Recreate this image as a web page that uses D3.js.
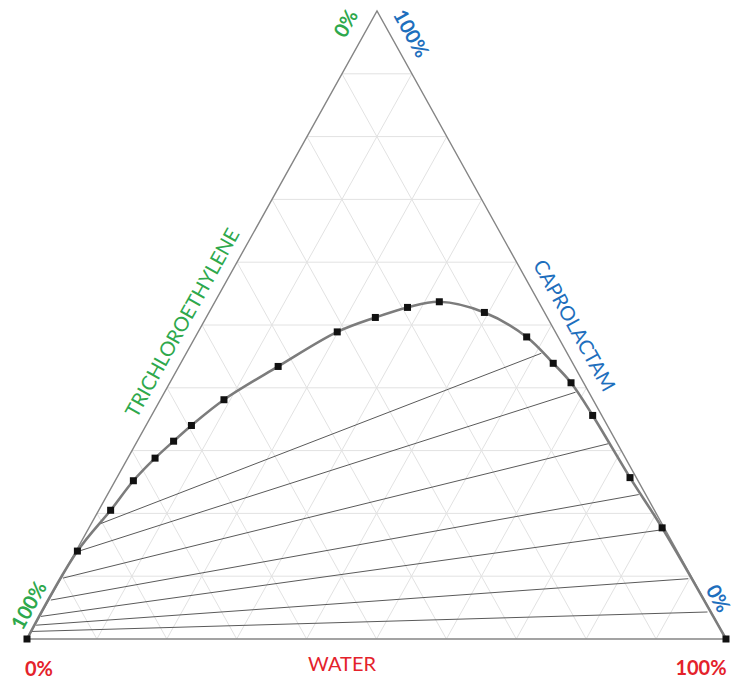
<!DOCTYPE html>
<html>
<head>
<meta charset="utf-8">
<script src="https://cdn.jsdelivr.net/npm/d3@7"></script>
<style>
  html, body { margin: 0; padding: 0; background: #fff; }
  svg { display: block; }
</style>
</head>
<body>
<svg id="chart" width="737" height="681"></svg>
<script>
// Ternary system water / caprolactam / trichloroethylene (mass %).
// Binodal curve, from the TCE-rich corner over the plait region to pure water.
const binodalWater       = [0, 0.2, 1.7, 2.6, 3.9, 5.2, 6.5, 9.1, 14.2, 19.9, 24.2, 28.0, 32.1, 39.4, 47.4, 53.3, 57.4, 63.1, 73.4, 82.0, 100];
const binodalCaprolactam = [0, 14.0, 20.5, 25.2, 28.8, 31.5, 34.0, 38.1, 43.4, 48.9, 51.2, 52.8, 53.7, 52.0, 48.1, 43.9, 40.8, 35.6, 25.7, 17.7, 0];

// Tie lines: TCE-rich (raffinate) end and water-rich (extract) end
const tieTceRichWater       = [1.2, 0.2, 0.3, 0.3, 0.2, 0.2, 0.1];
const tieTceRichCaprolactam = [18.3, 13.9, 9.7, 6.2, 3.6, 2.2, 1.2];
const tieWaterRichWater       = [50.8, 58.8, 67.6, 76.0, 82.2, 89.8, 95.2];
const tieWaterRichCaprolactam = [45.5, 39.3, 31.1, 23.0, 17.4, 9.6, 4.3];

// Grid every 10 %
const gridSteps = d3.range(10, 100, 10);

// Axis titles and end labels
const axisTitles = ["WATER", "CAPROLACTAM", "TRICHLOROETHYLENE"];
const waterEndLabels = ["0%", "100%"];        // left, right
const caprolactamEndLabels = ["0%", "100%"];  // bottom, top
const tceEndLabels = ["100%", "0%"];          // bottom, top

const GREEN = "#2ea84c", BLUE = "#1e6fbd", RED = "#e4222b";
const FONT = "Lato, 'Open Sans', sans-serif";

const svg = d3.select("#chart");

// Triangle corners: pure TCE (bottom left), pure water (bottom right), pure caprolactam (top)
const corner = { tce: [27, 639], water: [726, 639], capro: [377, 11] };

const waterX = d3.scaleLinear().domain([0, 100]).range([0, corner.water[0] - corner.tce[0]]);
const caproX = d3.scaleLinear().domain([0, 100]).range([0, corner.capro[0] - corner.tce[0]]);
const caproY = d3.scaleLinear().domain([0, 100]).range([corner.tce[1], corner.capro[1]]);
const project = (w, c) => [corner.tce[0] + waterX(w) + caproX(c), caproY(c)];

// ---- grid ----
const gridLines = [];
gridSteps.forEach(g => {
  gridLines.push([project(0, g), project(100 - g, g)]);       // constant caprolactam
  gridLines.push([project(g, 0), project(g, 100 - g)]);       // constant water
  gridLines.push([project(100 - g, 0), project(0, 100 - g)]); // constant TCE
});
svg.append("g")
  .selectAll("line").data(gridLines).join("line")
  .attr("x1", d => d[0][0]).attr("y1", d => d[0][1])
  .attr("x2", d => d[1][0]).attr("y2", d => d[1][1])
  .attr("stroke", "#e2e2e2").attr("stroke-width", 1);

// ---- triangle frame ----
svg.append("path")
  .attr("d", d3.line()([project(0, 0), project(100, 0), project(0, 100)]) + "Z")
  .attr("fill", "none").attr("stroke", "#858585").attr("stroke-width", 1.4);

// ---- tie lines ----
const ties = tieTceRichWater.map((w, i) => [
  project(w, tieTceRichCaprolactam[i]),
  project(tieWaterRichWater[i], tieWaterRichCaprolactam[i])
]);
svg.append("g")
  .selectAll("line").data(ties).join("line")
  .attr("x1", d => d[0][0]).attr("y1", d => d[0][1])
  .attr("x2", d => d[1][0]).attr("y2", d => d[1][1])
  .attr("stroke", "#5a5a5a").attr("stroke-width", 1);

// ---- binodal curve ----
const binodal = binodalWater.map((w, i) => project(w, binodalCaprolactam[i]));
svg.append("path")
  .attr("d", d3.line().curve(d3.curveCatmullRom.alpha(0.5))(binodal))
  .attr("fill", "none").attr("stroke", "#7c7c7c").attr("stroke-width", 2.6);

const m = 7;
svg.append("g")
  .selectAll("rect").data(binodal).join("rect")
  .attr("x", d => d[0] - m / 2).attr("y", d => d[1] - m / 2)
  .attr("width", m).attr("height", m)
  .attr("fill", "#111");

// ---- labels ----
const leftAngle = Math.atan2(corner.capro[1] - corner.tce[1], corner.capro[0] - corner.tce[0]) * 180 / Math.PI;
const rightAngle = Math.atan2(corner.water[1] - corner.capro[1], corner.water[0] - corner.capro[0]) * 180 / Math.PI;

function label(text, pos, color, size, weight, angle) {
  svg.append("text")
    .attr("transform", `translate(${pos[0]},${pos[1]}) rotate(${angle || 0})`)
    .attr("text-anchor", "middle")
    .attr("dominant-baseline", "central")
    .attr("font-family", FONT)
    .attr("font-size", size)
    .attr("font-weight", weight)
    .attr("fill", color)
    .text(text);
}
const shift = (p, dx, dy) => [p[0] + dx, p[1] + dy];

// left side: trichloroethylene
label(tceEndLabels[1], shift(project(0, 100), -32, 12), GREEN, 20, "bold", leftAngle);
label(tceEndLabels[0], shift(project(0, 0), 1, -34), GREEN, 20, "bold", leftAngle);
label(axisTitles[2], shift(project(0, 49), -17, -9), GREEN, 20, "normal", leftAngle);

// right side: caprolactam
label(caprolactamEndLabels[1], shift(project(0, 100), 35, 22), BLUE, 20, "bold", rightAngle);
label(caprolactamEndLabels[0], shift(project(100, 0), -7, -41), BLUE, 20, "bold", rightAngle);
label(axisTitles[1], shift(project(51.6, 48.4), 18, -10), BLUE, 20, "normal", rightAngle);

// bottom: water
label(waterEndLabels[0], shift(project(0, 0), 12, 29), RED, 20, "bold", 0);
label(waterEndLabels[1], shift(project(100, 0), -25, 28), RED, 20, "bold", 0);
label(axisTitles[0], shift(project(45, 0), 0.5, 24), RED, 20, "normal", 0);
</script>
</body>
</html>
